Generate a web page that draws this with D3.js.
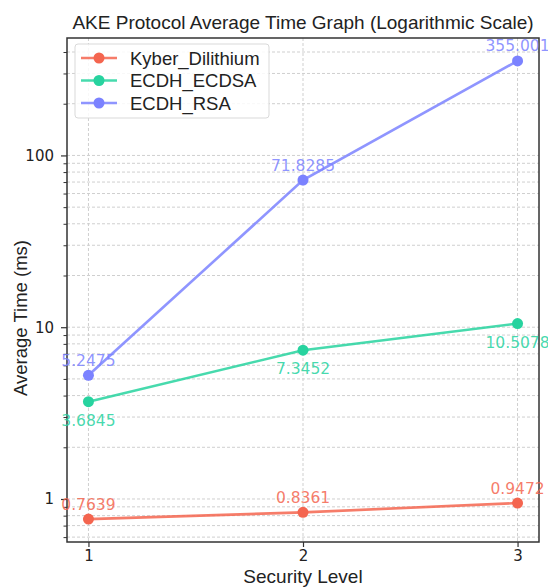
<!DOCTYPE html>
<html>
<head>
<meta charset="utf-8">
<script src="https://cdn.jsdelivr.net/npm/d3@7"></script>
<style>
  html, body { margin: 0; padding: 0; background: #fff; }
  svg { display: block; }
</style>
</head>
<body>
<svg id="chart" width="548" height="587"></svg>
<script>
// Security levels on the x axis
const levels = [1, 2, 3];

// Average handshake time per protocol, in milliseconds
const seriesNames = ["Kyber_Dilithium", "ECDH_ECDSA", "ECDH_RSA"];
const kyberDilithium = [0.7639, 0.8361, 0.9472];
const ecdhEcdsa = [3.6845, 7.3452, 10.5078];
const ecdhRsa = [5.2475, 71.8285, 355.001];

// Printed labels for the value annotations
const kyberLabels = ["0.7639", "0.8361", "0.9472"];
const ecdsaLabels = ["3.6845", "7.3452", "10.5078"];
const rsaLabels = ["5.2475", "71.8285", "355.001"];

// Y axis major ticks
const yMajorTicks = [1, 10, 100];
const yMajorLabels = ["1", "10", "100"];

const colors = ["#F4654F", "#27D39F", "#7B82FF"];
const labelPlacement = ["above", "below", "above"];

const series = seriesNames.map((name, i) => ({
  name,
  values: [kyberDilithium, ecdhEcdsa, ecdhRsa][i],
  labels: [kyberLabels, ecdsaLabels, rsaLabels][i],
  color: colors[i],
  place: labelPlacement[i]
}));

const svg = d3.select("#chart");
const plot = { left: 67, right: 539, top: 38, bottom: 542 };

// Domains padded like matplotlib's 5% autoscale margins (log space for y)
const allVals = series.flatMap(s => s.values);
const lmin = Math.log10(d3.min(allVals)), lmax = Math.log10(d3.max(allVals));
const lpad = (lmax - lmin) * 0.05;
const x = d3.scaleLinear().domain([0.9, 3.1]).range([plot.left, plot.right]);
const y = d3.scaleLog()
  .domain([Math.pow(10, lmin - lpad), Math.pow(10, lmax + lpad)])
  .range([plot.bottom, plot.top]);

// Minor ticks 2..9 in each decade within the domain
const yMinorTicks = [];
[0.1, 1, 10, 100].forEach(d => {
  for (let k = 2; k <= 9; k++) {
    const v = d * k;
    if (v >= y.domain()[0] && v <= y.domain()[1]) yMinorTicks.push(v);
  }
});

// Grid
const grid = svg.append("g").attr("class", "grid");
grid.selectAll("line.hy")
  .data(yMajorTicks.concat(yMinorTicks))
  .join("line")
  .attr("x1", plot.left).attr("x2", plot.right)
  .attr("y1", d => y(d)).attr("y2", d => y(d))
  .attr("stroke", "#cfcfcf").attr("stroke-width", 1)
  .attr("stroke-dasharray", "3,2");
grid.selectAll("line.vx")
  .data(levels)
  .join("line")
  .attr("x1", d => x(d)).attr("x2", d => x(d))
  .attr("y1", plot.top).attr("y2", plot.bottom)
  .attr("stroke", "#cfcfcf").attr("stroke-width", 1)
  .attr("stroke-dasharray", "3,2");

// Axes
const xAxis = d3.axisBottom(x).tickValues(levels).tickFormat(d3.format("d"))
  .tickSize(5).tickPadding(3);
const gx = svg.append("g").attr("transform", `translate(0,${plot.bottom})`).call(xAxis);
gx.select(".domain").remove();
gx.selectAll(".tick line").attr("stroke", "#333").attr("stroke-width", 1.2);
gx.selectAll(".tick text")
  .attr("font-family", "DejaVu Sans").attr("font-size", 15).attr("fill", "#222");

const yAxis = d3.axisLeft(y).tickValues(yMajorTicks)
  .tickFormat((d, i) => yMajorLabels[i]).tickSize(6).tickPadding(7);
const gy = svg.append("g").attr("transform", `translate(${plot.left},0)`).call(yAxis);
gy.select(".domain").remove();
gy.selectAll(".tick line").attr("stroke", "#333").attr("stroke-width", 1.2);
gy.selectAll(".tick text")
  .attr("font-family", "DejaVu Sans").attr("font-size", 15).attr("fill", "#222");

const yMinorAxis = d3.axisLeft(y).tickValues(yMinorTicks).tickFormat("").tickSize(3.5);
const gym = svg.append("g").attr("transform", `translate(${plot.left},0)`).call(yMinorAxis);
gym.select(".domain").remove();
gym.selectAll(".tick line").attr("stroke", "#333").attr("stroke-width", 1);

// Frame
svg.append("rect")
  .attr("x", plot.left).attr("y", plot.top)
  .attr("width", plot.right - plot.left).attr("height", plot.bottom - plot.top)
  .attr("fill", "none").attr("stroke", "#333").attr("stroke-width", 1.5);

// Lines, markers and value labels
const line = d3.line().x((d, i) => x(levels[i])).y(d => y(d));
series.forEach(s => {
  const g = svg.append("g");
  g.append("path")
    .datum(s.values)
    .attr("d", line)
    .attr("fill", "none")
    .attr("stroke", s.color)
    .attr("stroke-opacity", 0.85)
    .attr("stroke-width", 2.6);
  g.selectAll("circle")
    .data(s.values)
    .join("circle")
    .attr("cx", (d, i) => x(levels[i]))
    .attr("cy", d => y(d))
    .attr("r", 5.5)
    .attr("fill", s.color);
  g.selectAll("text")
    .data(s.values)
    .join("text")
    .attr("x", (d, i) => x(levels[i]))
    .attr("y", d => y(d) + (s.place === "above" ? -9.5 : 24))
    .attr("text-anchor", "middle")
    .attr("font-family", "DejaVu Sans")
    .attr("font-size", 15.5)
    .attr("fill", s.color)
    .attr("fill-opacity", 0.85)
    .text((d, i) => s.labels[i]);
});

// Legend
const legend = svg.append("g").attr("transform", "translate(75,44)");
legend.append("rect")
  .attr("width", 194).attr("height", 74).attr("rx", 3)
  .attr("fill", "#fff").attr("fill-opacity", 0.85)
  .attr("stroke", "#d9d9d9").attr("stroke-width", 1);
series.forEach((s, i) => {
  const row = legend.append("g").attr("transform", `translate(0,${14 + i * 22.5})`);
  row.append("line").attr("x1", 6).attr("x2", 42).attr("y1", 0).attr("y2", 0)
    .attr("stroke", s.color).attr("stroke-width", 2.6).attr("stroke-opacity", 0.85);
  row.append("circle").attr("cx", 24).attr("cy", 0).attr("r", 5.5).attr("fill", s.color);
  row.append("text").attr("x", 55).attr("y", 6.5)
    .attr("font-family", "Liberation Sans, Arial, sans-serif")
    .attr("font-size", 18.5).attr("fill", "#222")
    .text(s.name);
});

// Title and axis labels
svg.append("text")
  .attr("x", (plot.left + plot.right) / 2).attr("y", 29)
  .attr("text-anchor", "middle")
  .attr("font-family", "Liberation Sans, Arial, sans-serif")
  .attr("font-size", 19).attr("fill", "#222")
  .text("AKE Protocol Average Time Graph (Logarithmic Scale)");

svg.append("text")
  .attr("x", (plot.left + plot.right) / 2).attr("y", 583)
  .attr("text-anchor", "middle")
  .attr("font-family", "Liberation Sans, Arial, sans-serif")
  .attr("font-size", 19).attr("fill", "#222")
  .text("Security Level");

svg.append("text")
  .attr("transform", "translate(27,318) rotate(-90)")
  .attr("text-anchor", "middle")
  .attr("font-family", "Liberation Sans, Arial, sans-serif")
  .attr("font-size", 18.5).attr("fill", "#222")
  .text("Average Time (ms)");
</script>
</body>
</html>
